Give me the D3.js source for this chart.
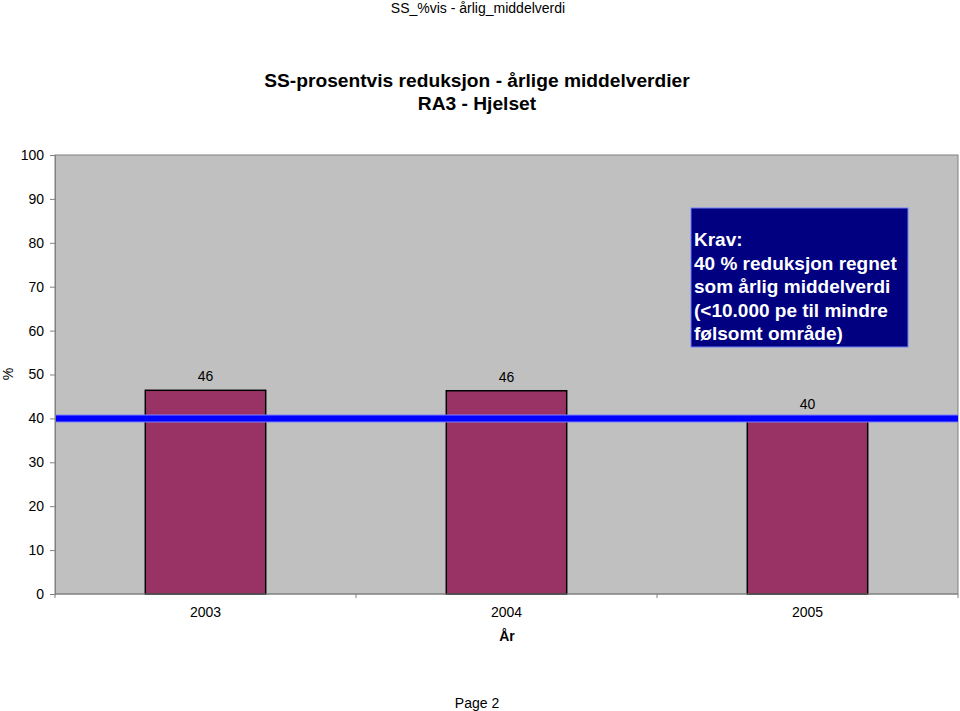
<!DOCTYPE html>
<html>
<head>
<meta charset="utf-8">
<script src="https://cdn.jsdelivr.net/npm/d3@7"></script>
<style>
  body { margin: 0; background: #fff; }
  text { font-family: "Liberation Sans", Arial, sans-serif; }
</style>
</head>
<body>
<div id="chart"></div>
<script>
// Data
var years = ['2003', '2004', '2005'];
var reduction = [46.4, 46.3, 40.1];
var requirement = 40;
var y_ticks = [0, 10, 20, 30, 40, 50, 60, 70, 80, 90, 100];
var krav_lines = ['Krav:', '40 % reduksjon regnet', 'som årlig middelverdi',
    '(<10.000 pe til mindre', 'følsomt område)'];

var chart_width  = 960;
var chart_height = 711;
var plot = { left: 55, right: 958, top: 155, bottom: 594 };

var svg = d3.select('#chart')
    .append('svg')
    .attr('width', chart_width)
    .attr('height', chart_height);

// header / footer
svg.append('text')
    .attr('x', 478).attr('y', 13)
    .attr('text-anchor', 'middle')
    .attr('font-size', 14)
    .text('SS_%vis - årlig_middelverdi');

svg.append('text')
    .attr('x', 477).attr('y', 708)
    .attr('text-anchor', 'middle')
    .attr('font-size', 14)
    .text('Page 2');

// titles
svg.append('text')
    .attr('x', 477).attr('y', 87)
    .attr('text-anchor', 'middle')
    .attr('font-size', 19.2).attr('font-weight', 'bold')
    .text('SS-prosentvis reduksjon - årlige middelverdier');
svg.append('text')
    .attr('x', 477).attr('y', 110)
    .attr('text-anchor', 'middle')
    .attr('font-size', 19.2).attr('font-weight', 'bold')
    .text('RA3 - Hjelset');

// scales
var x = d3.scaleBand()
    .domain(years)
    .range([plot.left, plot.right])
    .paddingInner(0.6)
    .paddingOuter(0.3);

var y = d3.scaleLinear()
    .domain([0, 100])
    .range([plot.bottom, plot.top]);

// plot background
svg.append('rect')
    .attr('x', plot.left)
    .attr('y', plot.top)
    .attr('width', plot.right - plot.left)
    .attr('height', plot.bottom - plot.top)
    .attr('fill', '#c0c0c0')
    .attr('stroke', '#808080')
    .attr('stroke-width', 1);

// bars
svg.selectAll('rect.bar')
    .data(reduction)
    .enter()
    .append('rect')
    .attr('class', 'bar')
    .attr('x', function(d, i){ return x(years[i]); })
    .attr('y', function(d){ return y(d); })
    .attr('width', x.bandwidth())
    .attr('height', function(d){ return y(0) - y(d); })
    .attr('fill', '#993366')
    .attr('stroke', '#000')
    .attr('stroke-width', 1.5);

// requirement line
svg.append('line')
    .attr('x1', plot.left)
    .attr('x2', plot.right)
    .attr('y1', y(requirement))
    .attr('y2', y(requirement))
    .attr('stroke', '#8080ff')
    .attr('stroke-width', 8);
svg.append('line')
    .attr('x1', plot.left)
    .attr('x2', plot.right)
    .attr('y1', y(requirement))
    .attr('y2', y(requirement))
    .attr('stroke', '#0000ff')
    .attr('stroke-width', 6);

// value labels
svg.selectAll('text.value')
    .data(reduction)
    .enter()
    .append('text')
    .attr('class', 'value')
    .attr('x', function(d, i){ return x(years[i]) + x.bandwidth() / 2; })
    .attr('y', function(d){ return y(d) - 9; })
    .attr('text-anchor', 'middle')
    .attr('font-size', 14)
    .text(function(d){ return Math.round(d); });

// y axis
var y_axis = d3.axisLeft(y)
    .tickValues(y_ticks)
    .tickSize(5)
    .tickPadding(6);

var gy = svg.append('g')
    .attr('transform', 'translate(' + plot.left + ',0)')
    .call(y_axis);
gy.select('.domain').attr('stroke', '#808080');
gy.selectAll('.tick line').attr('stroke', '#808080');
gy.selectAll('.tick text')
    .attr('font-size', 14)
    .attr('font-family', '"Liberation Sans", Arial, sans-serif')
    .attr('fill', '#000');

// x axis: ticks between categories
var boundaries = d3.scaleLinear().domain([0, years.length]).range([plot.left, plot.right]);
svg.selectAll('line.xtick')
    .data(d3.range(years.length + 1))
    .enter()
    .append('line')
    .attr('class', 'xtick')
    .attr('x1', function(d){ return boundaries(d); })
    .attr('x2', function(d){ return boundaries(d); })
    .attr('y1', plot.bottom)
    .attr('y2', plot.bottom + 4)
    .attr('stroke', '#808080');

svg.append('line')
    .attr('x1', plot.left).attr('x2', plot.right)
    .attr('y1', plot.bottom).attr('y2', plot.bottom)
    .attr('stroke', '#808080');

svg.selectAll('text.year')
    .data(years)
    .enter()
    .append('text')
    .attr('class', 'year')
    .attr('x', function(d){ return x(d) + x.bandwidth() / 2; })
    .attr('y', plot.bottom + 23)
    .attr('text-anchor', 'middle')
    .attr('font-size', 14)
    .text(function(d){ return d; });

svg.append('text')
    .attr('x', 507).attr('y', 641)
    .attr('text-anchor', 'middle')
    .attr('font-size', 14).attr('font-weight', 'bold')
    .text('År');

svg.append('text')
    .attr('transform', 'translate(13,374) rotate(-90)')
    .attr('text-anchor', 'middle')
    .attr('font-size', 14)
    .text('%');

// requirement note box
var box = svg.append('g');
box.append('rect')
    .attr('x', 691).attr('y', 208)
    .attr('width', 217).attr('height', 139)
    .attr('fill', '#000080')
    .attr('stroke', '#6f7fff')
    .attr('stroke-width', 1);
box.selectAll('text')
    .data(krav_lines)
    .enter()
    .append('text')
    .attr('x', 694)
    .attr('y', function(d, i){ return 246 + i * 23.5; })
    .attr('fill', '#fff')
    .attr('font-size', 19)
    .attr('font-weight', 'bold')
    .text(function(d){ return d; });
</script>
</body>
</html>
